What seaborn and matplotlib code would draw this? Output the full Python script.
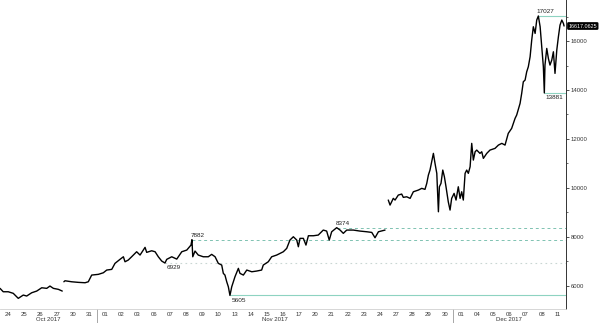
import numpy as np
import pandas as pd
import matplotlib
matplotlib.use("Agg")
import matplotlib.pyplot as plt
import matplotlib.transforms as mtransforms
from matplotlib.ticker import MultipleLocator
import seaborn as sns

# ---- data: time in business days since Oct 24 00:00 (weekends removed), price ----
segA_t = [0.00, 0.20, 0.51, 0.82, 1.13, 1.44, 1.65, 1.96, 2.27, 2.58, 2.89, 3.09, 3.30, 3.61, 3.85]
segA_v = [5894, 5755, 5755, 5690, 5485, 5620, 5580, 5714, 5783, 5918, 5894, 5988, 5894, 5853, 5783]

segB_t = [3.95, 4.02, 4.43, 4.84, 5.26, 5.46, 5.67, 6.08, 6.39, 6.60, 6.91, 7.11, 7.42, 7.63, 7.73,
          7.93, 8.14, 8.45, 8.66, 8.97, 9.07, 9.38, 9.59, 9.79, 10.00, 10.20, 10.31, 10.62, 10.93,
          11.24, 11.55, 11.81, 11.87, 11.92, 12.06, 12.26, 12.57, 12.88, 13.09, 13.30, 13.50, 13.71,
          13.81, 13.91, 14.02, 14.12, 14.22, 14.33, 14.53, 14.74, 14.84, 15.05, 15.26, 15.57, 15.87,
          16.18, 16.28, 16.59, 16.80, 17.11, 17.32, 17.52, 17.73, 17.93, 18.14, 18.35, 18.45, 18.55,
          18.76, 18.92, 19.07, 19.38, 19.68, 19.99, 20.20, 20.36, 20.51, 20.82, 21.03, 21.23, 21.44,
          21.85, 22.26, 22.68, 22.99, 23.19, 23.40, 23.81]
segB_v = [6163, 6204, 6163, 6139, 6123, 6163, 6437, 6466, 6531, 6642, 6670, 6915, 7079, 7185, 6981,
          7050, 7185, 7390, 7255, 7569, 7365, 7430, 7390, 7185, 7010, 6929, 7079, 7185, 7090,
          7390, 7459, 7663, 7882, 7185, 7418, 7255, 7185, 7185, 7283, 7185, 6915, 6846,
          6506, 6437, 6163, 5959, 5605, 5959, 6368, 6711, 6506, 6437, 6642, 6572, 6601,
          6642, 6846, 6981, 7185, 7255, 7324, 7390, 7528, 7868, 8003, 7868, 7594, 7937,
          7937, 7663, 8044, 8044, 8072, 8276, 8235, 7868, 8207, 8374, 8276, 8142, 8276,
          8276, 8235, 8207, 8180, 7962, 8207, 8276]

segC_t = [24.01, 24.12, 24.22, 24.32, 24.43, 24.63, 24.84, 24.94, 25.15, 25.36, 25.56, 25.87, 26.08,
          26.28, 26.39, 26.49, 26.59, 26.80, 26.90, 27.01, 27.11, 27.17, 27.27, 27.38, 27.48, 27.58,
          27.72, 27.83, 27.93, 28.08, 28.20, 28.34, 28.45, 28.55, 28.65, 28.76, 28.86, 28.96, 29.07,
          29.17, 29.27, 29.38, 29.48, 29.68, 29.79, 29.89, 30.10, 30.30, 30.61, 30.82, 31.03, 31.23,
          31.43, 31.64, 31.85, 31.95, 32.16, 32.26, 32.36, 32.47, 32.57, 32.67, 32.78, 32.88, 32.98,
          33.09, 33.19, 33.29, 33.40, 33.50, 33.60, 33.66, 33.70, 33.81, 33.91, 34.01, 34.12, 34.22,
          34.32, 34.43, 34.53, 34.63, 34.74, 34.84, 34.88]
segC_v = [9503, 9298, 9433, 9572, 9503, 9707, 9748, 9613, 9637, 9572, 9842, 9911, 9981,
          9940, 10185, 10524, 10729, 11411, 11003, 10594, 9024, 10046, 10185, 10729, 10455, 10046,
          9433, 9094, 9572, 9776, 9503, 10046, 9572, 9842, 9503, 10594, 10729, 10594, 10864,
          11820, 11137, 11477, 11546, 11411, 11477, 11207, 11411, 11546, 11615, 11750, 11820, 11750,
          12229, 12433, 12841, 12977, 13455, 13863, 14338, 14407, 14746, 14951, 15360, 16042, 16587,
          16314, 16860, 17027, 16587, 15769, 14951, 13881, 15020, 15701, 15292, 15020, 15224, 15564,
          14680, 15633, 16178, 16655, 16860, 16723, 16617.0625]

day_labels = ["24", "25", "26", "27", "30", "31", "01", "02", "03", "06", "07", "08", "09", "10",
              "13", "14", "15", "16", "17", "20", "21", "22", "23", "24", "27", "28", "29", "30",
              "01", "04", "05", "06", "07", "08", "11"]
month_labels = ["Oct 2017", "Nov 2017", "Dec 2017"]

mark_values = [17027, 13881, 8374, 7882, 6929, 5605]
mark_side = ["above", "below", "above", "above", "below", "below"]
mark_style = ["solid", "solid", "dashed", "dashed", "dotted", "solid"]

last_price = 16617.0625

# ---- build frame ----
df = pd.concat([
    pd.DataFrame({"t": segA_t, "price": segA_v, "seg": "A"}),
    pd.DataFrame({"t": segB_t, "price": segB_v, "seg": "B"}),
    pd.DataFrame({"t": segC_t, "price": segC_v, "seg": "C"}),
], ignore_index=True)

sns.set_style("white")
plt.rcParams["font.family"] = ["Liberation Sans", "DejaVu Sans"]

W, H = 600, 323
fig = plt.figure(figsize=(W / 100, H / 100), dpi=100)
ax = fig.add_axes([0, 14 / H, 566 / W, 309 / H])

sns.lineplot(data=df, x="t", y="price", units="seg", estimator=None, color="black",
             lw=1.0, ax=ax, legend=False, sort=False)

n_days = len(day_labels)
ax.set_xlim(0, n_days)
ax.set_ylim(5050, 17680)

# reference lines + labels
styles = {"solid": dict(ls="-", color="#8ed3c1", lw=0.8),
          "dashed": dict(ls=(0, (3, 3)), color="#7fc2b1", lw=0.7),
          "dotted": dict(ls=(0, (1.5, 3)), color="#c9d6d3", lw=0.8)}
for val, side, st in zip(mark_values, mark_side, mark_style):
    t0 = df.loc[(df["price"] - val).abs().idxmin(), "t"]
    ax.hlines(val, t0, n_days, zorder=1, **styles[st])
    if side == "above":
        ax.annotate(f"{val}", xy=(t0, val), xytext=(-1, 1.2), textcoords="offset points",
                    ha="left", va="bottom", fontsize=4.6, color="#222")
    else:
        ax.annotate(f"{val}", xy=(t0, val), xytext=(1, -1.5), textcoords="offset points",
                    ha="left", va="top", fontsize=4.6, color="#222")

# axes styling
for s in ["left", "top"]:
    ax.spines[s].set_visible(False)
ax.spines["right"].set_color("#333")
ax.spines["right"].set_linewidth(0.7)
ax.spines["bottom"].set_color("#d0d0d0")
ax.spines["bottom"].set_linewidth(0.6)

ax.set_xticks([i + 0.5 for i in range(n_days)])
ax.set_xticklabels(day_labels)
ax.tick_params(axis="x", length=0, pad=2.0, labelsize=4.3, labelcolor="#333")

ax.yaxis.tick_right()
ax.set_yticks(range(6000, 17000, 2000))
ax.yaxis.set_minor_locator(MultipleLocator(1000))
ax.tick_params(axis="y", which="major", length=2.5, width=0.6, color="#333",
               labelsize=4.3, labelcolor="#333", pad=1)
ax.tick_params(axis="y", which="minor", length=1.3, width=0.5, color="#333")
ax.set_xlabel("")
ax.set_ylabel("")
ax.grid(False)

# month separators and labels
trans = mtransforms.blended_transform_factory(ax.transData, ax.transAxes)
bounds = [0]
for i in range(1, n_days):
    if int(day_labels[i]) < int(day_labels[i - 1]):
        bounds.append(i)
bounds.append(n_days)
for b in bounds[1:-1]:
    ax.plot([b, b], [0, -14 / 309], transform=trans, clip_on=False, color="#999", lw=0.6)
for lab, a, b in zip(month_labels, bounds[:-1], bounds[1:]):
    ax.annotate(lab, xy=((a + b) / 2, 0), xycoords=trans, xytext=(0, -7.3),
                textcoords="offset points", ha="center", va="center", fontsize=4.3, color="#333")

# last price box
ax.annotate(f"{last_price}", xy=(1, last_price), xycoords=("axes fraction", "data"),
            xytext=(1.8, 0), textcoords="offset points", ha="left", va="center",
            fontsize=3.9, color="white",
            bbox=dict(boxstyle="round,pad=0.12", fc="black", ec="black"))

fig.savefig("out.png", dpi=100)
